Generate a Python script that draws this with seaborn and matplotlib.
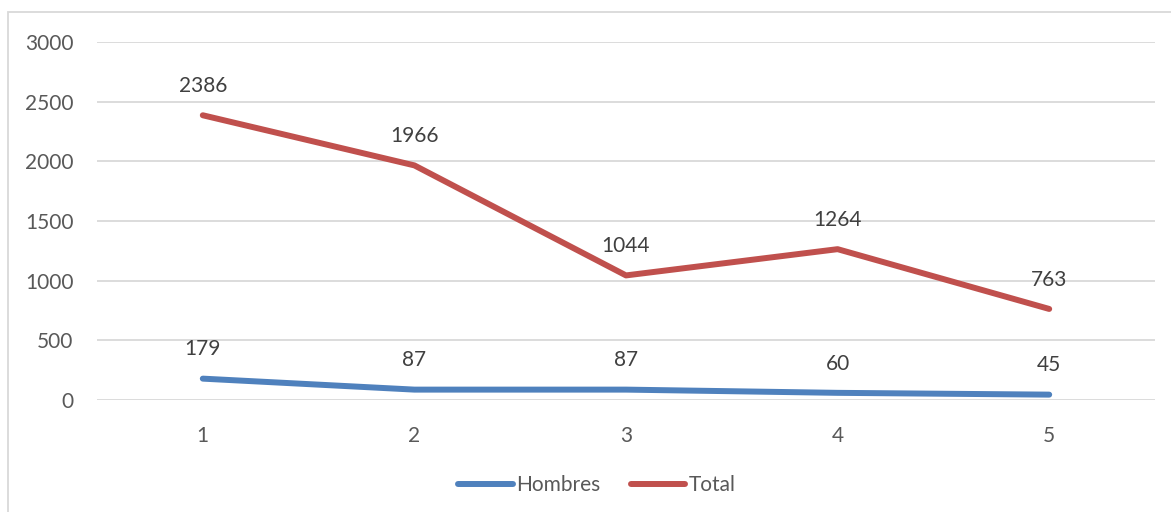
import matplotlib
matplotlib.use("Agg")
import matplotlib.pyplot as plt
import matplotlib.patches as mpatches
import seaborn as sns
import pandas as pd

# data
periodos = [1, 2, 3, 4, 5]
hombres = [179, 87, 87, 60, 45]
total = [2386, 1966, 1044, 1264, 763]
y_ticks = [0, 500, 1000, 1500, 2000, 2500, 3000]

df = pd.DataFrame({
    "x": periodos * 2,
    "valor": hombres + total,
    "serie": ["Hombres"] * len(hombres) + ["Total"] * len(total),
})

sns.set_style("white")
plt.rcParams["font.family"] = ["Lato", "DejaVu Sans"]
txt_col = "#595959"
palette = {"Hombres": "#4F81BD", "Total": "#C0504D"}

fig = plt.figure(figsize=(11.71, 5.12), dpi=100)
ax = fig.add_axes([97 / 1171, 1 - 400 / 512, 1058 / 1171, 358 / 512])

sns.lineplot(data=df, x="x", y="valor", hue="serie", palette=palette,
             linewidth=4.3, ax=ax, legend=False, solid_capstyle="round")

ax.set_xlim(0.5, 5.5)
ax.set_ylim(0, 3000)
ax.set_yticks(y_ticks)
ax.set_xticks(periodos)
ax.set_xticklabels([str(p) for p in periodos])
ax.set_xlabel("")
ax.set_ylabel("")
ax.yaxis.grid(True, color="#d9d9d9", linewidth=1.3)
ax.set_axisbelow(True)
for s in ax.spines.values():
    s.set_visible(False)
ax.tick_params(axis="both", length=0, labelsize=15, colors=txt_col)
ax.tick_params(axis="y", pad=17)
ax.tick_params(axis="x", pad=19)

for serie, vals in [("Hombres", hombres), ("Total", total)]:
    for xp, v in zip(periodos, vals):
        ax.annotate(str(v), (xp, v), xytext=(0, 21), textcoords="offset points",
                    ha="center", va="center", fontsize=15, color="#404040")

handles = [plt.Line2D([], [], color=palette[k], linewidth=4.3, solid_capstyle="round")
           for k in ["Hombres", "Total"]]
fig.legend(handles, ["Hombres", "Total"], loc="center", bbox_to_anchor=(597 / 1171, 1 - 485 / 512),
           ncol=2, frameon=False, fontsize=15, handlelength=2.6, handletextpad=0.15,
           columnspacing=1.5, labelcolor=txt_col)

# chart area border (left and top edges visible)
fig.patches.append(mpatches.Rectangle((8 / 1171, -0.05), 1.2, 1 - 12 / 512 + 0.05,
                                      transform=fig.transFigure, fill=False,
                                      edgecolor="#d9d9d9", linewidth=1.3))

fig.savefig("out.png", dpi=100, facecolor="white")
